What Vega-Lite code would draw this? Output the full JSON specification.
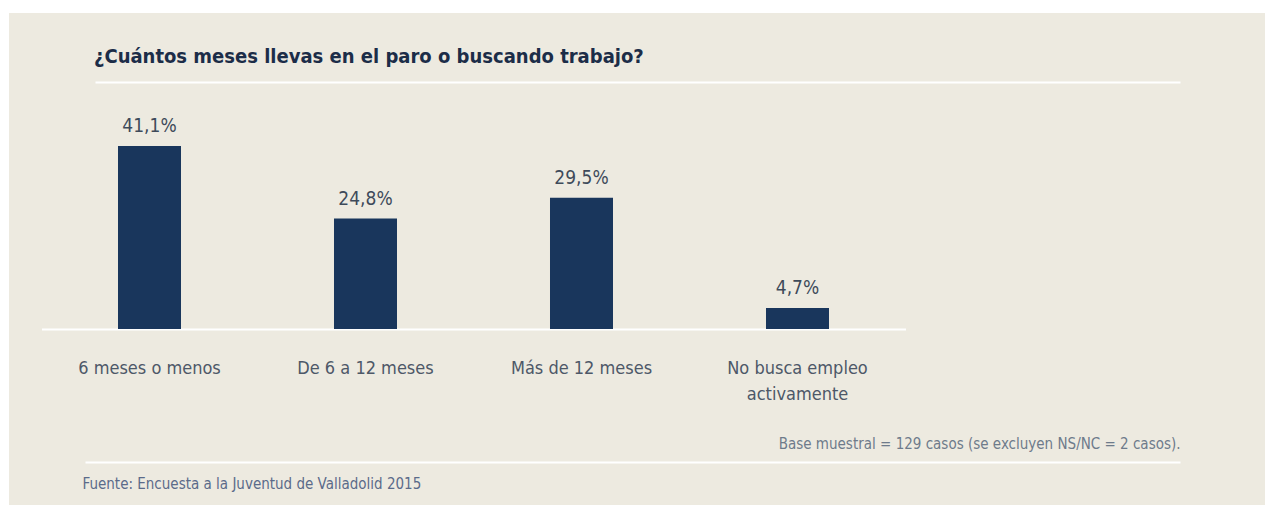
{
  "$schema": "https://vega.github.io/schema/vega-lite/v6.json",
  "width": 1256,
  "height": 492,
  "autosize": "none",
  "padding": {"left": 9, "top": 13, "right": 0, "bottom": 0},
  "background": "#ffffff",
  "config": {
    "view": {"fill": "#edeae0", "stroke": null}
  },
  "title": {
    "text": "¿Cuántos meses llevas en el paro o buscando trabajo?",
    "font": "DejaVu Sans Condensed, Liberation Sans Narrow, sans-serif",
    "fontSize": 20,
    "fontWeight": "bold",
    "color": "#1c2d48",
    "anchor": "start",
    "frame": "group",
    "orient": "top",
    "baseline": "alphabetic",
    "offset": -70,
    "dx": 85
  },
  "data": {
    "values": [
      {"cat": "6 meses o menos", "value": 41.1, "label": "41,1%"},
      {"cat": "De 6 a 12  meses", "value": 24.8, "label": "24,8%"},
      {"cat": "Más de 12 meses", "value": 29.5, "label": "29,5%"},
      {"cat": "No busca empleo|activamente", "value": 4.7, "label": "4,7%"}
    ]
  },
  "encoding": {
    "x": {
      "field": "cat",
      "type": "nominal",
      "sort": null,
      "scale": {"paddingInner": 0, "paddingOuter": 0.9074, "align": 0.0829},
      "axis": {
        "orient": "bottom",
        "offset": -176,
        "labelAngle": 0,
        "ticks": false,
        "tickSize": 0,
        "labelPadding": 44,
        "labelBaseline": "alphabetic",
        "labelFont": "DejaVu Sans Condensed, Liberation Sans Narrow, sans-serif",
        "labelFontSize": 18,
        "labelColor": "#4d5868",
        "labelLineHeight": 26,
        "labelExpr": "split(datum.label, '|')",
        "domain": true,
        "domainColor": "#ffffff",
        "domainWidth": 2,
        "domainDash": [0, 32.5, 864, 2000],
        "grid": false,
        "title": "Base muestral = 129 casos (se excluyen NS/NC = 2 casos).",
        "titleX": 1171,
        "titleY": 119,
        "titleAlign": "right",
        "titleBaseline": "alphabetic",
        "titleFont": "DejaVu Sans Condensed, Liberation Sans Narrow, sans-serif",
        "titleFontSize": 15,
        "titleFontWeight": "normal",
        "titleColor": "#6e7b8b"
      }
    },
    "y": {
      "field": "value",
      "type": "quantitative",
      "scale": {"domain": [-39.53, 70.97], "nice": false, "zero": false},
      "axis": {
        "orient": "left",
        "values": [55.47, -29.87],
        "labels": false,
        "ticks": false,
        "domain": false,
        "grid": true,
        "gridColor": "#ffffff",
        "gridWidth": 2,
        "gridOpacity": 1,
        "gridDash": {"condition": {"test": "datum.value > 0", "value": [0, 86, 1085, 2000]}, "value": [0, 76, 1095, 2000]},
        "title": "Fuente: Encuesta a la Juventud de Valladolid 2015",
        "titleAngle": 0,
        "titleX": 73,
        "titleY": 475,
        "titleAlign": "left",
        "titleBaseline": "alphabetic",
        "titleFont": "DejaVu Sans Condensed, Liberation Sans Narrow, sans-serif",
        "titleFontSize": 15,
        "titleFontWeight": "normal",
        "titleColor": "#5b6b8a"
      }
    }
  },
  "layer": [
    {
      "mark": {"type": "bar", "width": 63, "color": "#19365c"},
      "encoding": {"y2": {"datum": 0}}
    },
    {
      "mark": {
        "type": "text",
        "dy": -14,
        "baseline": "alphabetic",
        "align": "center",
        "font": "DejaVu Sans Condensed, Liberation Sans Narrow, sans-serif",
        "fontSize": 19,
        "color": "#3e4a5a"
      },
      "encoding": {"text": {"field": "label"}}
    }
  ]
}
